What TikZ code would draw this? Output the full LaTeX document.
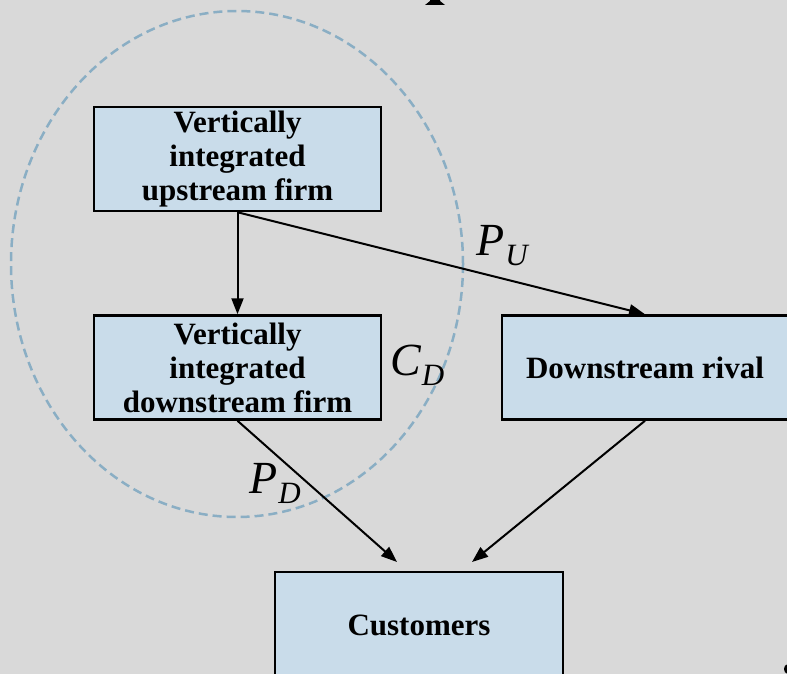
\documentclass[tikz,border=0pt]{standalone}
\usepackage{fontspec}
\setmainfont{Liberation Serif}
\usetikzlibrary{arrows.meta}
\definecolor{bgc}{HTML}{D9D9D9}
\definecolor{boxc}{HTML}{C9DCEA}
\definecolor{ellc}{HTML}{8AAEC4}
\newcommand\mylbl[2]{{\itshape\fontsize{46}{46}\selectfont #1\kern1pt\raisebox{-10pt}{\fontsize{31}{31}\selectfont #2}}}
\tikzset{
  firm/.style={draw=black, line width=2.5pt, fill=boxc, rectangle, minimum width=287pt, minimum height=104pt, align=center, inner sep=0pt, font=\bfseries\fontsize{31}{34}\selectfont},
  conn/.style={line width=2pt, -{Triangle[length=16pt,width=12pt]}},
  lab/.style={anchor=base west, inner sep=0pt}
}
\begin{document}
\begin{tikzpicture}[x=1pt,y=-1pt]
\useasboundingbox (0,0) rectangle (787,674);
\clip (0,0) rectangle (787,674);
\fill[bgc] (0,0) rectangle (787,674);
% fragments at edges
\fill[black] (425,5) -- (445,5) -- (440,1) -- (440,0) -- (430,0) -- (430,1) -- cycle;
\fill[black] (787,669) ellipse (3 and 4.5);
% dashed ellipse
\draw[ellc, line width=2.5pt, dash pattern=on 9pt off 5pt] (237,264) ellipse (226 and 253);
% boxes
\node[firm] (up) at (237.5,159) {Vertically\\integrated\\upstream firm};
\node[firm] (down) at (237.5,367.5) {Vertically\\integrated\\downstream firm};
\node[firm, minimum width=286pt] (rival) at (645,367.5) {Downstream rival};
\node[firm, minimum width=288pt, minimum height=106pt] (cust) at (419,625) {Customers};
% free ends
\coordinate (t1) at (397,562);
\coordinate (t2) at (472,562);
% connectors
\draw[conn] (up.south) -- (down.north);
\draw[conn] (up.south) -- (rival.north);
\draw[conn] (down.south) -- (t1);
\draw[conn] (rival.south) -- (t2);
% labels
\node[lab] (pu) at (476,255) {\mylbl{P}{U}};
\node[lab] (cd) at (390,375) {\mylbl{C}{D}};
\node[lab] (pd) at (249,493) {\mylbl{P}{D}};
\end{tikzpicture}
\end{document}
